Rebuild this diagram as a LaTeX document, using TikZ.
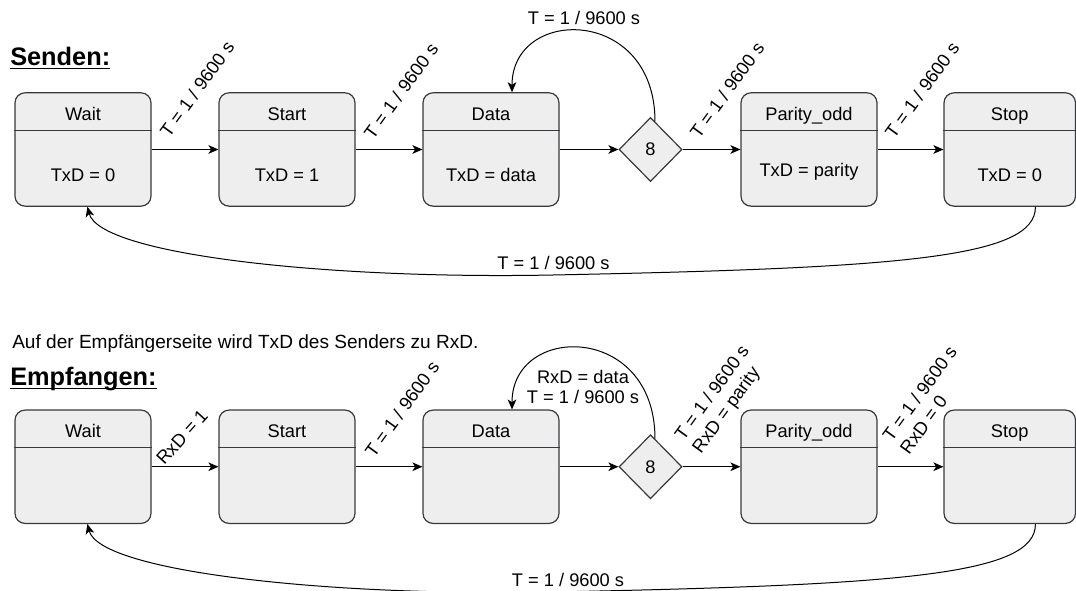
\documentclass[tikz,border=0pt]{standalone}
\usepackage{fontspec}
\setmainfont{Liberation Sans}
\usetikzlibrary{shapes.geometric,arrows.meta,calc}
\definecolor{boxfill}{HTML}{EEEEEE}
\definecolor{boxline}{HTML}{36393D}
% underlined heading with a rule just below the baseline
\newcommand\ulbox[1]{\setbox0\hbox{#1}\rlap{\rule[-2.8pt]{\wd0}{1.4pt}}\box0}

\begin{document}
\begin{tikzpicture}[x=0.75pt,y=-0.75pt,
  font=\fontsize{13.7}{16}\selectfont,
  statebox/.style={draw=boxline, fill=boxfill, line width=0.9pt,
    rounded corners=7.5pt, minimum width=102pt, minimum height=85pt, inner sep=0pt},
  choice/.style={diamond, draw=boxline, fill=boxfill, line width=0.9pt,
    minimum width=47.25pt, minimum height=48pt, inner sep=0pt},
  flow/.style={-{Stealth[length=7.5pt,width=6.5pt,inset=2pt]}, line width=0.75pt},
  sep/.style={draw=boxline, line width=0.9pt},
  slanted/.style={rotate=54, anchor=center, inner sep=0pt},
  twoline/.style={rotate=54, anchor=center, align=left, inner sep=0pt},
  heading/.style={anchor=base west, inner sep=0pt, font=\fontsize{19}{21}\selectfont\bfseries}
]
\useasboundingbox (0,0) rectangle (1076,591);

% ---------------- Senden ----------------
\node[heading] (hs) at (10,65.7) {\ulbox{Senden:}};

\node[statebox] (sw) at (83,149.5) {};
\node[statebox] (ss) at (287,149.5) {};
\node[statebox] (sd) at (491,149.5) {};
\node[statebox] (sp) at (809,149.5) {};
\node[statebox, minimum width=98.6pt] (sx) at (1009.75,149.5) {};
\node[choice] (d1) at (650.5,149.5) {8};

% ---------------- Empfangen ----------------
\node[anchor=base west, inner sep=0pt, font=\fontsize{14.3}{16}\selectfont] (note) at (12,348.3)
  {Auf der Empfängerseite wird TxD des Senders zu RxD.};
\node[heading] (he) at (10,385.7) {\ulbox{Empfangen:}};

\node[statebox] (rw) at (83,466.75) {};
\node[statebox] (rs) at (287,466.75) {};
\node[statebox] (rd) at (491,466.75) {};
\node[statebox] (rp) at (809,466.75) {};
\node[statebox, minimum width=98.6pt] (rx) at (1009.75,466.75) {};
\node[choice] (d2) at (650.5,466.75) {8};

% state headers
\foreach \n/\t in {sw/Wait, ss/Start, sd/Data, sp/Parity\_odd, sx/Stop,
                   rw/Wait, rs/Start, rd/Data, rp/Parity\_odd, rx/Stop} {
  \draw[sep] ($(\n.north west)+(0,38)$) -- ($(\n.north east)+(0,38)$);
  \node[anchor=base] (\n-t) at ($(\n.north)+(0,28)$) {\t};
}

% state actions (sender)
\node[anchor=base] (sw-a) at ($(sw.north)+(0,89)$) {TxD = 0};
\node[anchor=base] (ss-a) at ($(ss.north)+(0,89)$) {TxD = 1};
\node[anchor=base] (sd-a) at ($(sd.north)+(0,89)$) {TxD = data};
\node[anchor=base] (sp-a) at ($(sp.north)+(0,84)$) {TxD = parity};
\node[anchor=base] (sx-a) at ($(sx.north)+(0,89)$) {TxD = 0};

% transitions (sender)
\draw[flow] (sw.east) -- (ss.west);
\draw[flow] (ss.east) -- (sd.west);
\draw[flow] (sd.east) -- (d1.west);
\draw[flow] (d1.east) -- (sp.west);
\draw[flow] (sp.east) -- (sx.west);

\node[slanted] (l1) at (197,89) {T = 1 / 9600 s};
\node[slanted] (l2) at (401,91) {T = 1 / 9600 s};
\node[slanted] (l3) at (727,90) {T = 1 / 9600 s};
\node[slanted] (l4) at (922,90) {T = 1 / 9600 s};

\coordinate (s-loop) at ($(d1.north)!0.14!(d1.east)$);
\coordinate (s-in) at ($(sd.north)+(21,0)$);
\draw[flow] (s-loop) .. controls (655,6) and (512,6) .. (s-in);
\node[anchor=base] (l5) at (584,25) {T = 1 / 9600 s};

\coordinate (s-out) at ($(sx.south west)+(92,0)$);
\coordinate (s-back) at ($(sw.south west)+(73,0)$);
\coordinate (s-mid) at (553,275);
\draw[flow] (s-out) .. controls (1036,258) and (900,268) .. (s-mid)
  .. controls (330,279.5) and (100,255) .. (s-back);
\node[anchor=base] (l6) at (553.5,270) {T = 1 / 9600 s};

% transitions (receiver)
\draw[flow] (rw.east) -- (rs.west);
\draw[flow] (rs.east) -- (rd.west);
\draw[flow] (rd.east) -- (d2.west);
\draw[flow] (d2.east) -- (rp.west);
\draw[flow] (rp.east) -- (rx.west);

\node[rotate=48, anchor=center, inner sep=0pt] (k1) at (182,437) {RxD = 1};
\node[slanted] (k2) at (402,409) {T = 1 / 9600 s};
\node[twoline] (k3) at (721.7,399.8) {T = 1 / 9600 s\\RxD = parity};
\node[twoline] (k4) at (928.2,399.8) {T = 1 / 9600 s\\RxD = 0};

\coordinate (r-loop) at ($(d2.north)!0.14!(d2.east)$);
\coordinate (r-in) at ($(rd.north)+(21,0)$);
\draw[flow] (r-loop) .. controls (655,323) and (512,323) .. (r-in);
\node[anchor=center, align=center, inner sep=0pt,
  font=\fontsize{13.7}{14.5}\selectfont] (k5) at (583,387) {RxD = data\\T = 1 / 9600 s};

\coordinate (r-out) at ($(rx.south west)+(92,0)$);
\coordinate (r-back) at ($(rw.south west)+(73,0)$);
\coordinate (r-mid) at (553,592);
\draw[flow] (r-out) .. controls (1036,575) and (900,585) .. (r-mid)
  .. controls (330,596.5) and (100,572) .. (r-back);
\node[anchor=base] (k6) at (568,587) {T = 1 / 9600 s};
\end{tikzpicture}
\end{document}
